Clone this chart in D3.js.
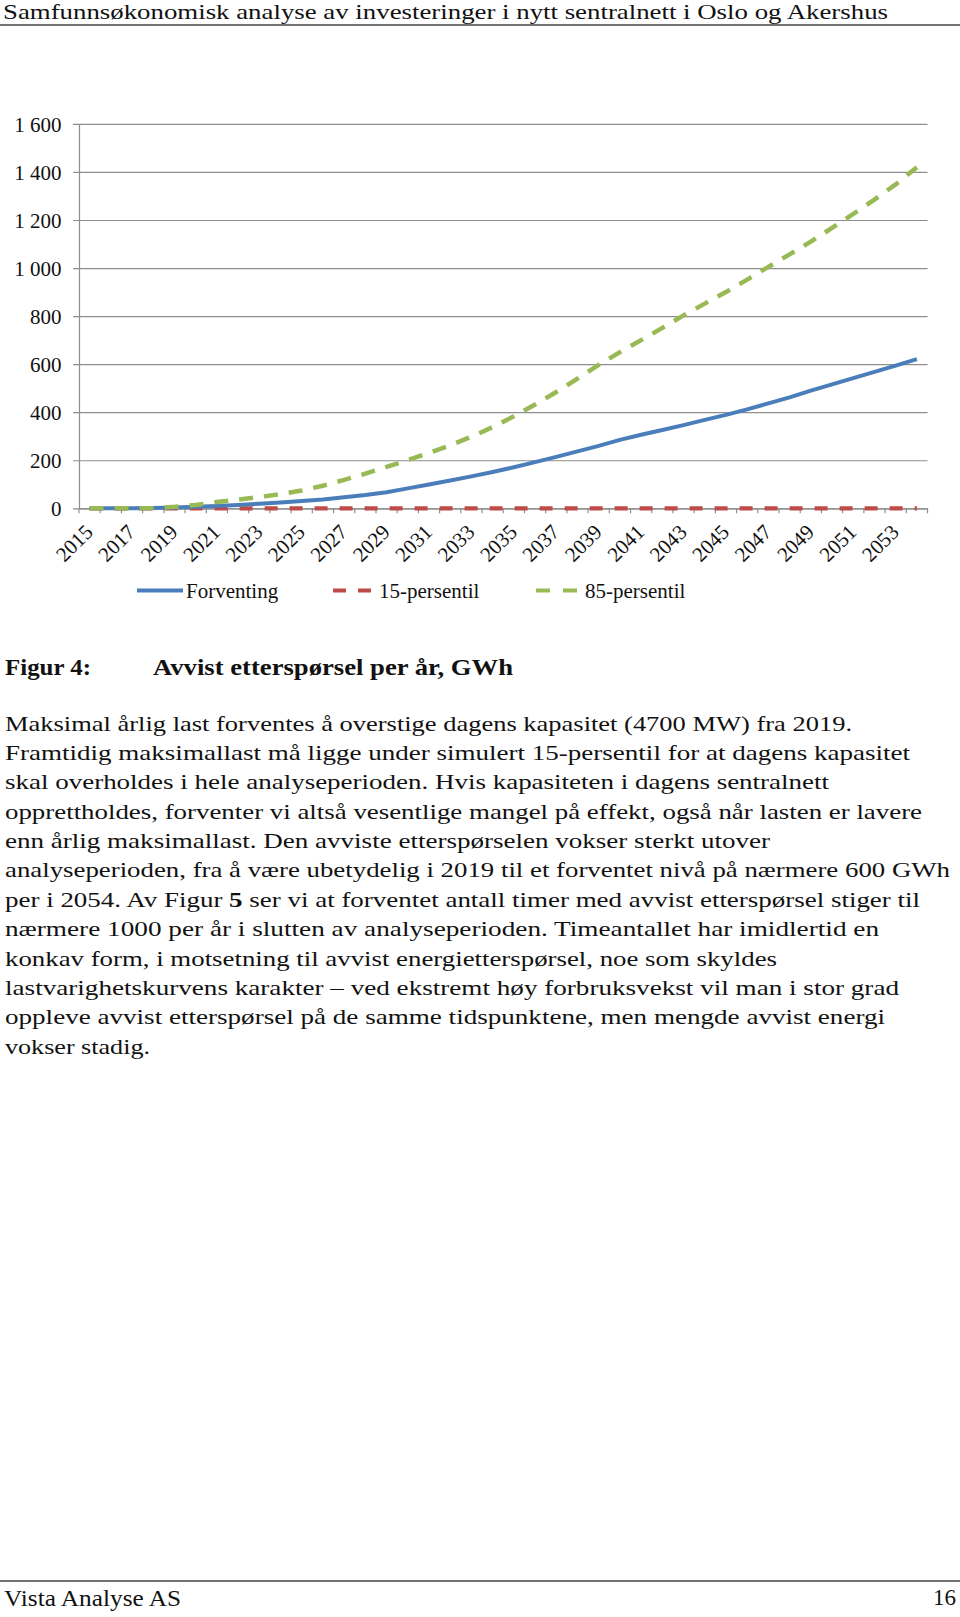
<!DOCTYPE html>
<html><head><meta charset="utf-8">
<script src="https://cdn.jsdelivr.net/npm/d3@7"></script>
<style>html,body{margin:0;padding:0;background:#fff}svg{display:block}</style>
</head><body><div id="chart"></div>
<script>
const categories = ["2015","2016","2017","2018","2019","2020","2021","2022","2023","2024",
  "2025","2026","2027","2028","2029","2030","2031","2032","2033","2034",
  "2035","2036","2037","2038","2039","2040","2041","2042","2043","2044",
  "2045","2046","2047","2048","2049","2050","2051","2052","2053","2054"];
const forventing = [0,0,0,1,3,6,10,14,19,24,30,37,46,55,67,83,99,116,133,151,
  171,192,214,237,260,285,306,326,346,368,389,412,437,462,490,516,542,568,594,621];
const persentil15 = [0,0,0,0,0,0,0,0,0,0,0,0,0,0,0,0,0,0,0,0,
  0,0,0,0,0,0,0,0,0,0,0,0,0,0,0,0,0,0,0,0];
const persentil85 = [0,0,0,1,6,14,26,36,47,59,74,94,118,144,172,201,230,262,298,338,
  383,432,484,540,597,650,700,751,803,852,900,952,1005,1057,1110,1167,1225,1285,1348,1420];
const yTicks = [0,200,400,600,800,1000,1200,1400,1600];
const seriesNames = ["Forventing","15-persentil","85-persentil"];
const seriesColors = ["#4a7ebb","#be4b48","#98b954"];

const headerText = "Samfunnsøkonomisk analyse av investeringer i nytt sentralnett i Oslo og Akershus";
const captionLabel = "Figur 4:";
const captionTitle = "Avvist etterspørsel per år, GWh";
const bodyLines = [
  [["Maksimal årlig last forventes å overstige dagens kapasitet (4700 MW) fra 2019.",false]],
  [["Framtidig maksimallast må ligge under simulert 15-persentil for at dagens kapasitet",false]],
  [["skal overholdes i hele analyseperioden. Hvis kapasiteten i dagens sentralnett",false]],
  [["opprettholdes, forventer vi altså vesentlige mangel på effekt, også når lasten er lavere",false]],
  [["enn årlig maksimallast. Den avviste etterspørselen vokser sterkt utover",false]],
  [["analyseperioden, fra å være ubetydelig i 2019 til et forventet nivå på nærmere 600 GWh",false]],
  [["per i 2054. Av Figur ",false],["5",true],[" ser vi at forventet antall timer med avvist etterspørsel stiger til",false]],
  [["nærmere 1000 per år i slutten av analyseperioden. Timeantallet har imidlertid en",false]],
  [["konkav form, i motsetning til avvist energietterspørsel, noe som skyldes",false]],
  [["lastvarighetskurvens karakter – ved ekstremt høy forbruksvekst vil man i stor grad",false]],
  [["oppleve avvist etterspørsel på de samme tidspunktene, men mengde avvist energi",false]],
  [["vokser stadig.",false]]
];
const bodyWidths = [852,910,829,922,770,950,920,879,777,899,885,150];
const footerLeft = "Vista Analyse AS";
const footerRight = "16";

(function () {
const W = 960, H = 1617;
const FONT = "'Liberation Serif', 'Times New Roman', serif";
const svg = d3.select("#chart").append("svg").attr("width", W).attr("height", H)
  .style("background", "#fff").style("font-family", FONT);

// Header
svg.append("text").attr("x", 3).attr("y", 19).attr("font-size", 21).attr("fill", "#111")
  .attr("textLength", 885).attr("lengthAdjust", "spacingAndGlyphs").text(headerText);
svg.append("line").attr("x1", 0).attr("x2", W).attr("y1", 25).attr("y2", 25)
  .attr("stroke", "#444").attr("stroke-width", 1.4);

// Chart
const pLeft = 79, pRight = 927.5, pTop = 123.9, pBottom = 508.3;
const x = d3.scaleBand().domain(categories).range([pLeft, pRight]).padding(0);
const y = d3.scaleLinear().domain([0, 1600]).range([pBottom, pTop]);
const bw = x.bandwidth();
const fmt = d3.formatLocale({decimal: ",", thousands: " ", grouping: [3], currency: ["", ""]}).format(",");
const gridColor = "#8e8e8e";

const yAxis = svg.append("g").attr("transform", `translate(${pLeft},0)`)
  .call(d3.axisLeft(y).tickValues(yTicks).tickSizeInner(6).tickSizeOuter(0).tickPadding(11.5).tickFormat(fmt));
yAxis.select(".domain").attr("stroke", gridColor).attr("stroke-width", 1.2);
yAxis.selectAll(".tick line").attr("x1", pRight - pLeft).attr("stroke", gridColor).attr("stroke-width", 1.2);
yAxis.selectAll(".tick text").attr("font-size", 21).attr("font-family", FONT).attr("fill", "#111").attr("dy", "0.34em");

const xAxis = svg.append("g").attr("transform", `translate(0,${pBottom})`)
  .call(d3.axisBottom(x).tickSizeInner(5).tickSizeOuter(0).tickFormat(""));
xAxis.select(".domain").attr("stroke", gridColor).attr("stroke-width", 1.2);
xAxis.selectAll(".tick line").attr("transform", `translate(${-bw/2},0)`).attr("stroke", gridColor).attr("stroke-width", 1.2);
xAxis.append("line").attr("x1", pRight).attr("x2", pRight).attr("y1", 0).attr("y2", 5)
  .attr("stroke", gridColor).attr("stroke-width", 1.2);

// x labels every other year
svg.append("g").selectAll("text").data(categories.filter((c, i) => i % 2 === 0)).join("text")
  .attr("transform", d => `translate(${x(d) + bw / 2 + 4.5},${pBottom + 25}) rotate(-45)`)
  .attr("text-anchor", "end").attr("font-size", 21).attr("fill", "#111").text(d => d);

// Lines
const line = d3.line().x((d, i) => x(categories[i]) + bw / 2).y(d => y(d));
const drawOrder = [
  {data: persentil15, color: seriesColors[1], dash: "13,12", width: 4.2},
  {data: forventing, color: seriesColors[0], dash: null, width: 4},
  {data: persentil85, color: seriesColors[2], dash: "14,11", width: 4.5}
];
drawOrder.forEach(s => {
  const p = svg.append("path").datum(s.data).attr("d", line).attr("fill", "none")
    .attr("stroke", s.color).attr("stroke-width", s.width).attr("stroke-linejoin", "round");
  if (s.dash) p.attr("stroke-dasharray", s.dash);
});

// Legend
const legendY = 590.5;
const legendItems = [
  {name: seriesNames[0], color: seriesColors[0], x1: 137, x2: 183, tx: 186, dash: null},
  {name: seriesNames[1], color: seriesColors[1], x1: 333, x2: 371, tx: 379, dash: "13,12"},
  {name: seriesNames[2], color: seriesColors[2], x1: 536, x2: 577, tx: 585, dash: "14,13"}
];
const lg = svg.append("g").selectAll("g").data(legendItems).join("g");
lg.append("line").attr("x1", d => d.x1).attr("x2", d => d.x2).attr("y1", legendY).attr("y2", legendY)
  .attr("stroke", d => d.color).attr("stroke-width", 4.2).attr("stroke-dasharray", d => d.dash);
lg.append("text").attr("x", d => d.tx).attr("y", legendY + 7).attr("font-size", 21).attr("fill", "#111").text(d => d.name);

// Caption
svg.append("text").attr("x", 5).attr("y", 675).attr("font-size", 22.5).attr("font-weight", "bold")
  .attr("fill", "#111").attr("textLength", 86).attr("lengthAdjust", "spacingAndGlyphs").text(captionLabel);
svg.append("text").attr("x", 153).attr("y", 675).attr("font-size", 22.5).attr("font-weight", "bold")
  .attr("fill", "#111").attr("textLength", 360).attr("lengthAdjust", "spacingAndGlyphs").text(captionTitle);

// Body
const body = svg.append("g").attr("font-size", 22).attr("fill", "#111");
bodyLines.forEach((parts, i) => {
  const t = body.append("text").attr("x", 5).attr("y", 730.7 + i * 29.35)
    .attr("textLength", bodyWidths[i] - 5).attr("lengthAdjust", "spacingAndGlyphs");
  parts.forEach(([s, b]) => t.append("tspan").attr("font-weight", b ? "bold" : null).text(s));
});

// Footer
svg.append("line").attr("x1", 0).attr("x2", W).attr("y1", 1581).attr("y2", 1581)
  .attr("stroke", "#444").attr("stroke-width", 1.4);
svg.append("text").attr("x", 4).attr("y", 1606).attr("font-size", 23).attr("fill", "#111")
  .attr("textLength", 177).attr("lengthAdjust", "spacingAndGlyphs").text(footerLeft);
svg.append("text").attr("x", 956).attr("y", 1605).attr("font-size", 23).attr("fill", "#111")
  .attr("text-anchor", "end").text(footerRight);
})();
</script></body></html>
